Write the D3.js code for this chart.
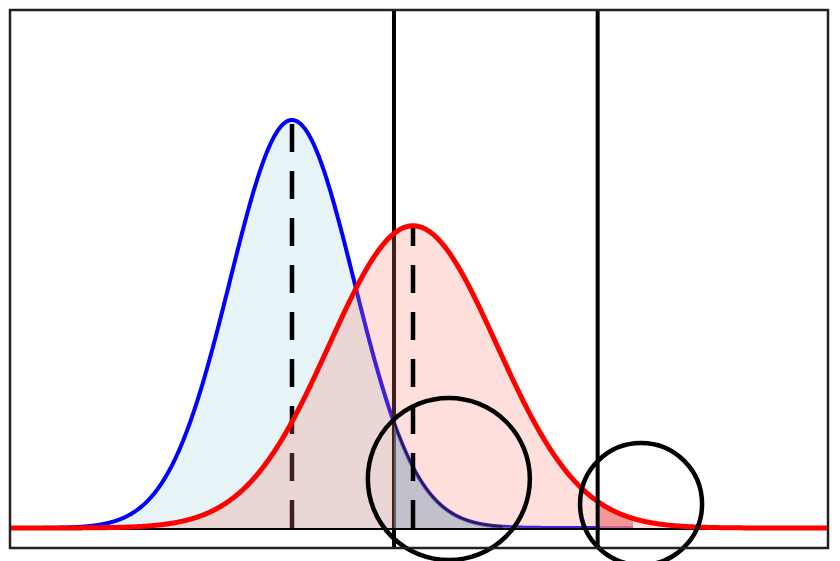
<!DOCTYPE html>
<html>
<head>
<meta charset="utf-8">
<script src="https://cdn.jsdelivr.net/npm/d3@7"></script>
<style>
  html, body { margin: 0; padding: 0; background: #fff; }
  svg { display: block; }
</style>
</head>
<body>
<svg id="chart" width="840" height="561"></svg>
<script>
// ---- data ----
const seriesNames = ["null", "alternative"];
const seriesMeans = [0, 1.952];          // distribution centres (x units)
const seriesSDs = [1, 1.35];             // distribution spreads
const seriesExtents = [[-4.548, 5.5], [-4.548, 8.645]]; // drawn x-range per curve
const xDomain = [-4.548, 8.645];
const yDomain = [0, 0.5065];
const criticalLines = [1.645, 4.93];     // solid vertical lines
const grayRegion = [1.645, 5.5];         // shaded under null curve
const darkRedRegion = [4.93, 5.5];       // shaded under alternative curve
const circleX = [2.53, 5.63];
const circleY = [0.0479, 0.0235];

// ---- layout ----
const svg = d3.select("#chart");
const x = d3.scaleLinear().domain(xDomain).range([10, 828]);
const y = d3.scaleLinear().domain(yDomain).range([528, 10]);
const frameBottom = 548;

function pdf(v, m, s) {
  return Math.exp(-0.5 * ((v - m) / s) ** 2) / (s * Math.sqrt(2 * Math.PI));
}
function samples(i, lo, hi) {
  const pts = [];
  const step = 0.01;
  for (let v = lo; v < hi; v += step) pts.push([v, pdf(v, seriesMeans[i], seriesSDs[i])]);
  pts.push([hi, pdf(hi, seriesMeans[i], seriesSDs[i])]);
  return pts;
}
const line = d3.line().x(d => x(d[0])).y(d => y(d[1]));
const area = d3.area().x(d => x(d[0])).y0(y(0)).y1(d => y(d[1]));

svg.append("rect").attr("width", 840).attr("height", 561).attr("fill", "#fff");

const blue = samples(0, seriesExtents[0][0], seriesExtents[0][1]);
const red = samples(1, seriesExtents[1][0], seriesExtents[1][1]);

// blue fill + line
svg.append("path").datum(blue).attr("d", area)
  .attr("fill", "lightblue").attr("fill-opacity", 0.3);
svg.append("path").datum(blue).attr("d", line)
  .attr("fill", "none").attr("stroke", "#0000ff").attr("stroke-width", 4);

// first critical line and null mean dashed line (under the red fill)
svg.append("line")
  .attr("x1", x(criticalLines[0])).attr("x2", x(criticalLines[0]))
  .attr("y1", y.range()[1]).attr("y2", frameBottom)
  .attr("stroke", "#000").attr("stroke-width", 4);

function dashed(i) {
  const m = seriesMeans[i];
  svg.append("line")
    .attr("x1", x(m)).attr("x2", x(m))
    .attr("y1", y(0)).attr("y2", y(pdf(m, m, seriesSDs[i])))
    .attr("stroke", "#000").attr("stroke-width", 4.5)
    .attr("stroke-dasharray", "28,19");
}
dashed(0);

// red fill
svg.append("path").datum(red).attr("d", area)
  .attr("fill", "salmon").attr("fill-opacity", 0.25);

// gray region under null curve beyond the critical value
svg.append("path").datum(samples(0, grayRegion[0], grayRegion[1])).attr("d", area)
  .attr("fill", "#8fa8c0").attr("fill-opacity", 0.45);
svg.append("path").datum(samples(0, grayRegion[0], 3.4)).attr("d", line)
  .attr("fill", "none").attr("stroke", "#2a1a40").attr("stroke-width", 2);

// darker red region
svg.append("path").datum(samples(1, darkRedRegion[0], darkRedRegion[1])).attr("d", area)
  .attr("fill", "lightcoral").attr("fill-opacity", 0.75);

dashed(1);

// baseline
svg.append("line").attr("x1", x(xDomain[0])).attr("x2", x(xDomain[1]))
  .attr("y1", y(0) + 1).attr("y2", y(0) + 1)
  .attr("stroke", "#000").attr("stroke-width", 2);

// red line
svg.append("path").datum(red).attr("d", line)
  .attr("fill", "none").attr("stroke", "#ff0000").attr("stroke-width", 5);

// second critical line
svg.append("line")
  .attr("x1", x(criticalLines[1])).attr("x2", x(criticalLines[1]))
  .attr("y1", y.range()[1]).attr("y2", frameBottom)
  .attr("stroke", "#000").attr("stroke-width", 4);

// circles
const radii = [81, 61];
circleX.forEach((cx, i) => {
  svg.append("circle")
    .attr("cx", x(cx)).attr("cy", y(circleY[i])).attr("r", radii[i])
    .attr("fill", "none").attr("stroke", "#000").attr("stroke-width", 4.5);
});

// frame
svg.append("rect")
  .attr("x", x(xDomain[0])).attr("y", y.range()[1])
  .attr("width", x(xDomain[1]) - x(xDomain[0]))
  .attr("height", frameBottom - y.range()[1])
  .attr("fill", "none").attr("stroke", "#222").attr("stroke-width", 2.5);
</script>
</body>
</html>
